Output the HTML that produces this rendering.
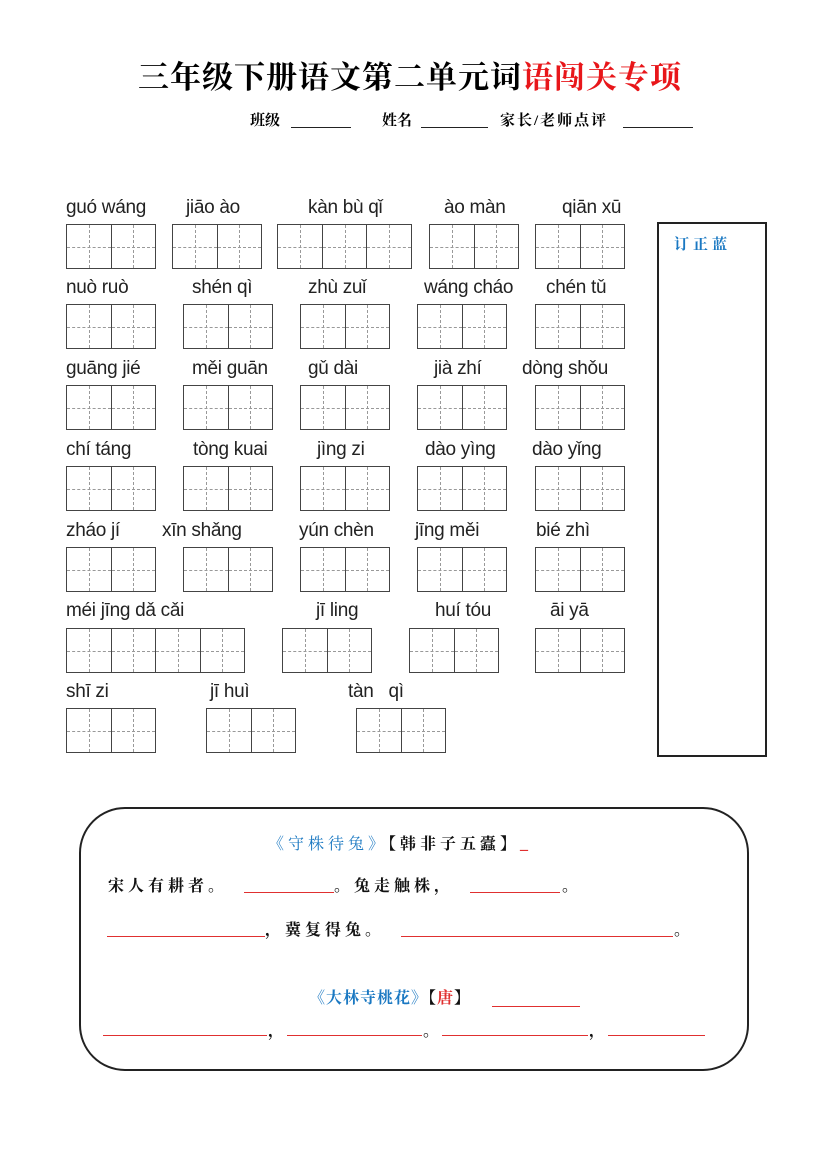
<!DOCTYPE html>
<html><head><meta charset="utf-8"><style>
body{margin:0;width:827px;height:1169px;background:#fff;position:relative;overflow:hidden;font-family:"Liberation Sans","Noto Sans CJK SC",sans-serif}
.a{position:absolute;white-space:nowrap}
.p{position:absolute;font-size:19px;color:#222;white-space:nowrap;line-height:20px;letter-spacing:-0.3px}
.b{position:absolute;height:45px;border:1.5px solid #444;box-sizing:border-box;display:flex}
.c{flex:1;position:relative;border-left:1.5px solid #444}
.c:first-child{border-left:none}
.c:before{content:"";position:absolute;left:50%;top:0;bottom:0;border-left:1px dashed #999}
.c:after{content:"";position:absolute;top:50%;left:0;right:0;border-top:1px dashed #999}
.k{font-family:"Liberation Serif","Noto Serif CJK SC",serif;font-size:16px;letter-spacing:4px;color:#111;font-weight:bold}
.u{position:absolute;border-top:1.5px solid #e03030;height:0}
.h{position:absolute;top:109px;font-size:15px;font-weight:bold;font-family:'Liberation Serif','Noto Serif CJK SC',serif;white-space:nowrap}
.hl{position:absolute;top:127px;border-top:1.2px solid #222;height:0}
</style></head><body>
<div class="a" style="left:138px;top:52px;font-size:31px;font-weight:bold;font-family:'Liberation Serif','Noto Serif CJK SC',serif;letter-spacing:1px">三年级下册语文第二单元词<span style="color:#e8161a">语闯关专项</span></div>
<div class="h" style="left:250px">班级</div><div class="hl" style="left:291px;width:60px"></div>
<div class="h" style="left:382px">姓名</div><div class="hl" style="left:421px;width:67px"></div>
<div class="h" style="left:500px;letter-spacing:2px">家长/老师点评</div><div class="hl" style="left:623px;width:70px"></div>

<div class="p" style="left:66px;top:198px">guó wáng</div>
<div class="p" style="left:186px;top:198px">jiāo ào</div>
<div class="p" style="left:308px;top:198px">kàn bù qǐ</div>
<div class="p" style="left:444px;top:198px">ào màn</div>
<div class="p" style="left:562px;top:198px">qiān xū</div>
<div class="b" style="left:66px;top:224px;width:90px"><div class="c"></div><div class="c"></div></div>
<div class="b" style="left:172px;top:224px;width:90px"><div class="c"></div><div class="c"></div></div>
<div class="b" style="left:277px;top:224px;width:135px"><div class="c"></div><div class="c"></div><div class="c"></div></div>
<div class="b" style="left:429px;top:224px;width:90px"><div class="c"></div><div class="c"></div></div>
<div class="b" style="left:535px;top:224px;width:90px"><div class="c"></div><div class="c"></div></div>

<div class="p" style="left:66px;top:278px">nuò ruò</div>
<div class="p" style="left:192px;top:278px">shén qì</div>
<div class="p" style="left:308px;top:278px">zhù zuǐ</div>
<div class="p" style="left:424px;top:278px">wáng cháo</div>
<div class="p" style="left:546px;top:278px">chén tǔ</div>
<div class="b" style="left:66px;top:304px;width:90px"><div class="c"></div><div class="c"></div></div>
<div class="b" style="left:183px;top:304px;width:90px"><div class="c"></div><div class="c"></div></div>
<div class="b" style="left:300px;top:304px;width:90px"><div class="c"></div><div class="c"></div></div>
<div class="b" style="left:417px;top:304px;width:90px"><div class="c"></div><div class="c"></div></div>
<div class="b" style="left:535px;top:304px;width:90px"><div class="c"></div><div class="c"></div></div>

<div class="p" style="left:66px;top:359px">guāng jié</div>
<div class="p" style="left:192px;top:359px">měi guān</div>
<div class="p" style="left:308px;top:359px">gǔ dài</div>
<div class="p" style="left:434px;top:359px">jià zhí</div>
<div class="p" style="left:522px;top:359px">dòng shǒu</div>
<div class="b" style="left:66px;top:385px;width:90px"><div class="c"></div><div class="c"></div></div>
<div class="b" style="left:183px;top:385px;width:90px"><div class="c"></div><div class="c"></div></div>
<div class="b" style="left:300px;top:385px;width:90px"><div class="c"></div><div class="c"></div></div>
<div class="b" style="left:417px;top:385px;width:90px"><div class="c"></div><div class="c"></div></div>
<div class="b" style="left:535px;top:385px;width:90px"><div class="c"></div><div class="c"></div></div>

<div class="p" style="left:66px;top:440px">chí táng</div>
<div class="p" style="left:193px;top:440px">tòng kuai</div>
<div class="p" style="left:317px;top:440px">jìng zi</div>
<div class="p" style="left:425px;top:440px">dào yìng</div>
<div class="p" style="left:532px;top:440px">dào yǐng</div>
<div class="b" style="left:66px;top:466px;width:90px"><div class="c"></div><div class="c"></div></div>
<div class="b" style="left:183px;top:466px;width:90px"><div class="c"></div><div class="c"></div></div>
<div class="b" style="left:300px;top:466px;width:90px"><div class="c"></div><div class="c"></div></div>
<div class="b" style="left:417px;top:466px;width:90px"><div class="c"></div><div class="c"></div></div>
<div class="b" style="left:535px;top:466px;width:90px"><div class="c"></div><div class="c"></div></div>

<div class="p" style="left:66px;top:521px">zháo jí</div>
<div class="p" style="left:162px;top:521px">xīn shǎng</div>
<div class="p" style="left:299px;top:521px">yún chèn</div>
<div class="p" style="left:415px;top:521px">jīng měi</div>
<div class="p" style="left:536px;top:521px">bié zhì</div>
<div class="b" style="left:66px;top:547px;width:90px"><div class="c"></div><div class="c"></div></div>
<div class="b" style="left:183px;top:547px;width:90px"><div class="c"></div><div class="c"></div></div>
<div class="b" style="left:300px;top:547px;width:90px"><div class="c"></div><div class="c"></div></div>
<div class="b" style="left:417px;top:547px;width:90px"><div class="c"></div><div class="c"></div></div>
<div class="b" style="left:535px;top:547px;width:90px"><div class="c"></div><div class="c"></div></div>

<div class="p" style="left:66px;top:601px">méi jīng dǎ cǎi</div>
<div class="p" style="left:316px;top:601px">jī ling</div>
<div class="p" style="left:435px;top:601px">huí tóu</div>
<div class="p" style="left:550px;top:601px">āi yā</div>
<div class="b" style="left:66px;top:628px;width:179px"><div class="c"></div><div class="c"></div><div class="c"></div><div class="c"></div></div>
<div class="b" style="left:282px;top:628px;width:90px"><div class="c"></div><div class="c"></div></div>
<div class="b" style="left:409px;top:628px;width:90px"><div class="c"></div><div class="c"></div></div>
<div class="b" style="left:535px;top:628px;width:90px"><div class="c"></div><div class="c"></div></div>

<div class="p" style="left:66px;top:682px">shī zi</div>
<div class="p" style="left:210px;top:682px">jī huì</div>
<div class="p" style="left:348px;top:682px">tàn&nbsp;&nbsp;&nbsp;qì</div>
<div class="b" style="left:66px;top:708px;width:90px"><div class="c"></div><div class="c"></div></div>
<div class="b" style="left:206px;top:708px;width:90px"><div class="c"></div><div class="c"></div></div>
<div class="b" style="left:356px;top:708px;width:90px"><div class="c"></div><div class="c"></div></div>

<div class="a" style="left:657px;top:222px;width:110px;height:535px;border:2px solid #222;box-sizing:border-box"></div>
<div class="a" style="left:674px;top:233px;font-size:15px;font-weight:bold;color:#1a78c2;letter-spacing:4px;font-family:'Liberation Serif','Noto Serif CJK SC',serif">订正蓝</div>

<div class="a" style="left:79px;top:807px;width:670px;height:264px;border:2px solid #222;border-radius:46px;box-sizing:border-box"></div>

<div class="a k" style="left:268px;top:831px"><span style="color:#1a78c2;font-weight:normal">《守株待兔》</span>【韩非子五蠹】<span style="color:#e03030">_</span></div>
<div class="a k" style="left:108px;top:873px">宋人有耕者。</div>
<div class="u" style="left:244px;top:892px;width:90px"></div>
<div class="a k" style="left:334px;top:873px">。兔走触株，</div>
<div class="u" style="left:470px;top:892px;width:90px"></div>
<div class="a k" style="left:562px;top:873px">。</div>
<div class="u" style="left:107px;top:936px;width:158px"></div>
<div class="a k" style="left:265px;top:917px">，冀复得兔。</div>
<div class="u" style="left:401px;top:936px;width:272px"></div>
<div class="a k" style="left:674px;top:917px">。</div>
<div class="a k" style="left:309px;top:985px;letter-spacing:1px"><span style="color:#1a78c2">《大林寺桃花》</span>【<span style="color:#e03030">唐</span>】</div>
<div class="u" style="left:492px;top:1006px;width:88px"></div>
<div class="u" style="left:103px;top:1035px;width:164px"></div>
<div class="a k" style="left:268px;top:1018px">，</div>
<div class="u" style="left:287px;top:1035px;width:135px"></div>
<div class="a k" style="left:423px;top:1018px">。</div>
<div class="u" style="left:442px;top:1035px;width:146px"></div>
<div class="a k" style="left:589px;top:1018px">，</div>
<div class="u" style="left:608px;top:1035px;width:97px"></div>
</body></html>
